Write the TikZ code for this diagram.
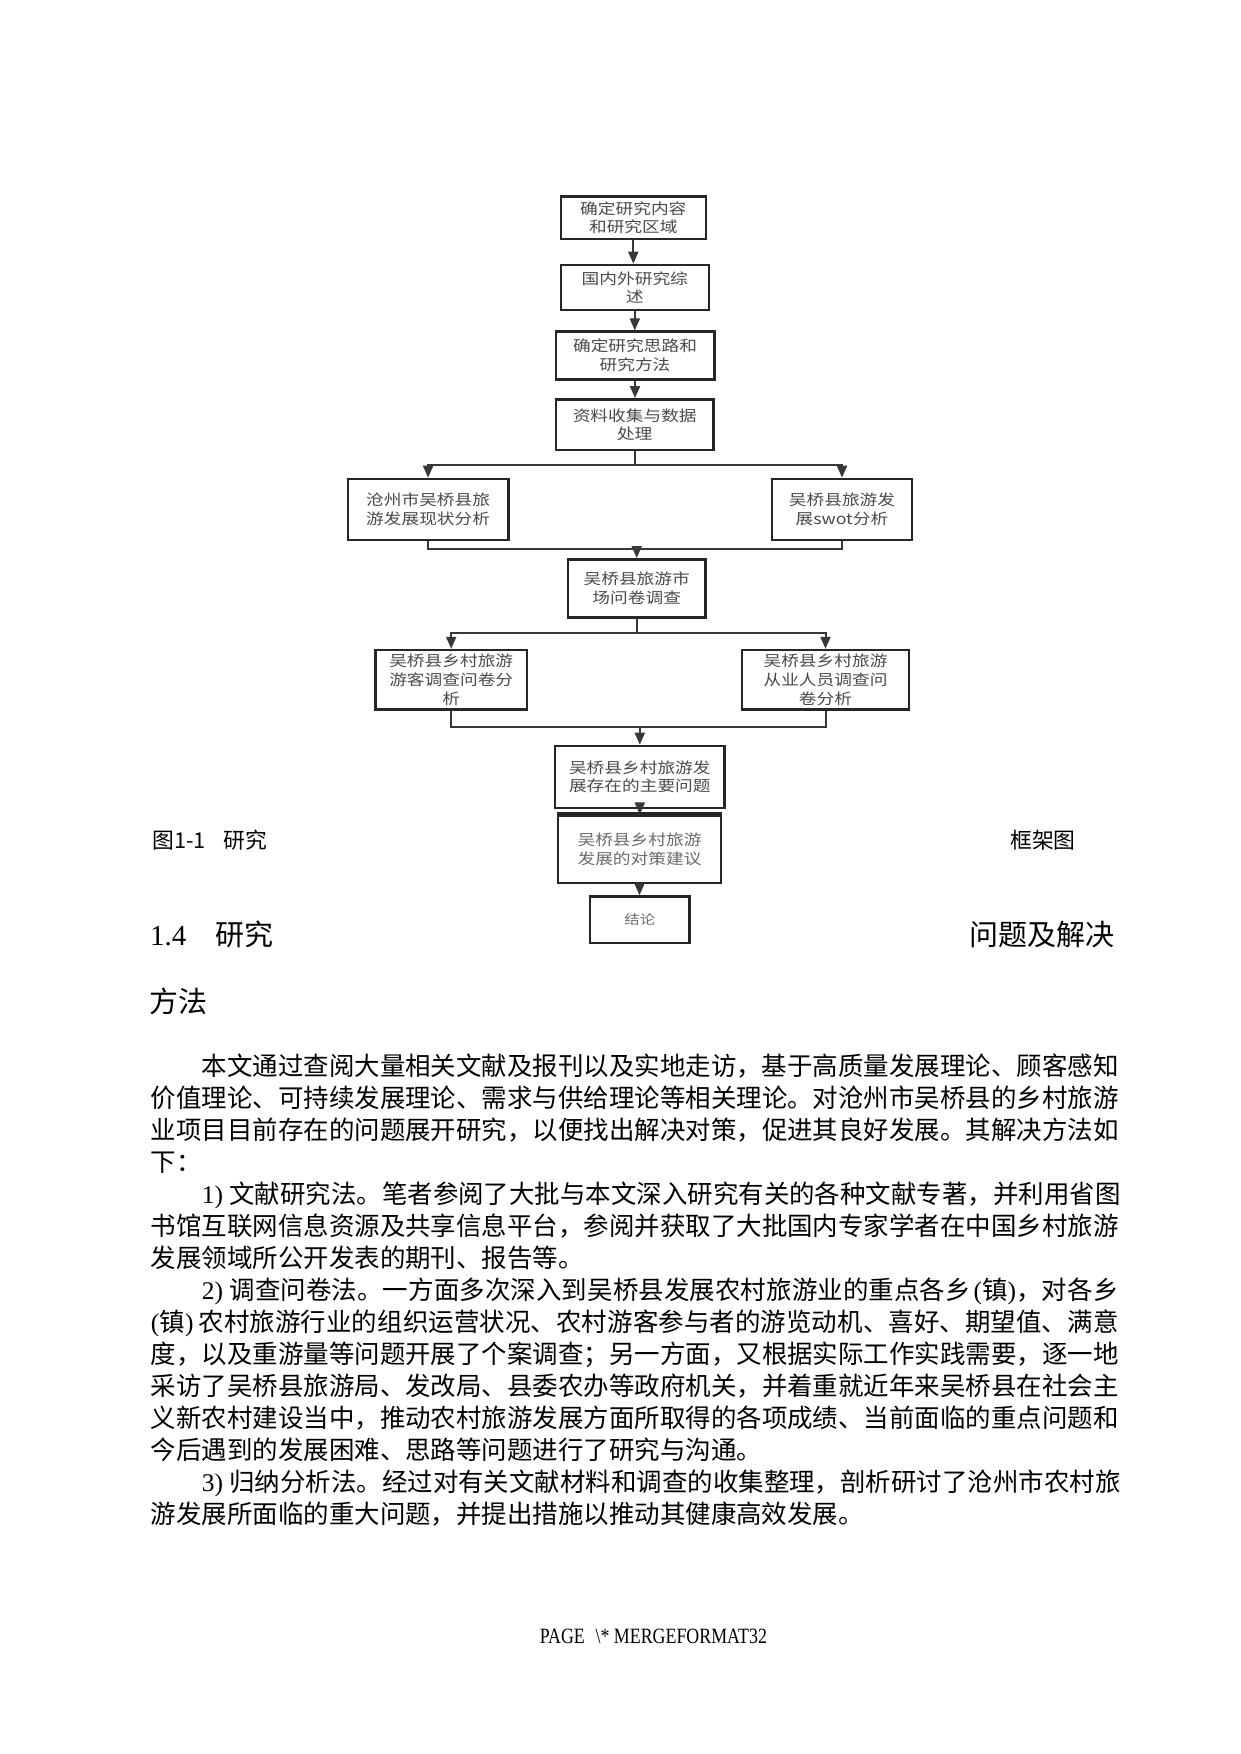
\documentclass[tikz,border=0pt]{standalone}
\usepackage{fontspec}
\setmainfont{Liberation Serif}
\newfontfamily\cjk{Noto Sans CJK SC}
\newfontfamily\boxf[FakeStretch=1.18]{Noto Sans CJK SC}
\newfontfamily\lat{Liberation Serif}
\usetikzlibrary{arrows.meta}
\definecolor{boxline}{HTML}{262626}
\definecolor{conncol}{HTML}{383838}
\definecolor{boxtext}{HTML}{4A4A4A}
\definecolor{boxtextl}{HTML}{6A6A6A}
\newcommand\boxfont{\boxf\fontsize{15pt}{18.7pt}\selectfont}
\newcommand\bodyfont{\cjk\fontsize{25.46pt}{30pt}\selectfont}
\def\jfirst#1{{#1}\jrest}
\def\jrest#1{\ifx\relax#1\else\hskip0pt plus 1fil{#1}\expandafter\jrest\fi}
\newcommand\jline[2]{\makebox[#1pt][s]{\jfirst#2\relax}}
\begin{document}
\begin{tikzpicture}[x=1pt,y=-1pt,
  fbox/.style={draw=boxline, line width=2.6pt, fill=white, inner sep=0pt, align=center, text=boxtext, font=\boxfont},
  conn/.style={draw=conncol, line width=2pt},
  arr/.style={conn, -{Triangle[length=12pt,width=10pt]}},
  txt/.style={inner sep=0pt, text height=.88em, text depth=.12em},
  bodyl/.style={txt, anchor=west, font=\bodyfont}]
\fill[white] (0,0) rectangle (1240,1754);
\useasboundingbox (0,0) rectangle (1240,1754);

% flowchart boxes
\node[fbox, minimum width=145pt, minimum height=42.3pt] (b1) at (633.3,217.9) {确定研究内容\\和研究区域};
\node[fbox, minimum width=148pt, minimum height=45pt] (b2) at (634.8,287.5) {国内外研究综\\述};
\node[fbox, minimum width=158.4pt, minimum height=47.6pt] (b3) at (635,355.5) {确定研究思路和\\研究方法};
\node[fbox, minimum width=157.7pt, minimum height=50.7pt] (b4) at (634.7,424.7) {资料收集与数据\\处理};
\node[fbox, minimum width=160.4pt, minimum height=61pt] (b5) at (428.1,509.5) {沧州市吴桥县旅\\游发展现状分析};
\node[fbox, minimum width=140pt, minimum height=61pt] (b6) at (842,509.5) {吴桥县旅游发\\展swot分析};
\node[fbox, minimum width=137.5pt, minimum height=58pt] (b7) at (636.7,588.3) {吴桥县旅游市\\场问卷调查};
\node[fbox, minimum width=151.6pt, minimum height=59.3pt] (b8) at (451.2,679.7) {吴桥县乡村旅游\\游客调查问卷分\\析};
\node[fbox, minimum width=167pt, minimum height=59.3pt] (b9) at (825.5,679.7) {吴桥县乡村旅游\\从业人员调查问\\卷分析};
\node[fbox, minimum width=169.5pt, minimum height=61.9pt] (b10) at (639.8,776.9) {吴桥县乡村旅游发\\展存在的主要问题};
\node[fbox, minimum width=163pt, minimum height=67.3pt, text=boxtextl] (b11) at (639.5,849.4) {吴桥县乡村旅游\\发展的对策建议};
\draw[boxline, line width=4pt] (b11.north west) -- (b11.north east);
\node[fbox, minimum width=99.5pt, minimum height=46.5pt, text=boxtextl, font=\boxf\fontsize{13pt}{16pt}\selectfont] (b12) at (639.8,919.8) {结论};

% helper levels
\coordinate (ys1) at (0,464.5);
\coordinate (ym1) at (0,549.3);
\coordinate (ys2) at (0,633.3);
\coordinate (ym2) at (0,726.7);
\coordinate (s1) at (b4.south |- ys1);
\coordinate (m1) at (b7.north |- ym1);
\coordinate (s2) at (b7.south |- ys2);
\coordinate (m2) at (b10.north |- ym2);

% connectors
\draw[arr] (b1.south) -- (b1.south |- b2.north);
\draw[arr] (b2.south) -- (b2.south |- b3.north);
\draw[arr] (b3.south) -- (b3.south |- b4.north);
\draw[conn] (b4.south) -- (s1);
\draw[arr] (s1) -| (b5.north);
\draw[arr] (s1) -| (b6.north);
\draw[conn] (b5.south) |- (m1);
\draw[conn] (b6.south) |- (m1);
\draw[arr] (m1) -- (b7.north);
\draw[conn] (b7.south) -- (s2);
\draw[arr] (s2) -| (b8.north);
\draw[arr] (s2) -| (b9.north);
\draw[conn] (b8.south) |- (m2);
\draw[conn] (b9.south) |- (m2);
\draw[arr] (m2) -- (b10.north);
\draw[arr] (b10.south) -- (b10.south |- b11.north);
\draw[arr] (b11.south) -- (b11.south |- b12.north);

% caption
\node[txt, anchor=west, font=\cjk\fontsize{21.8pt}{24pt}\selectfont] (cap1) at (152,844.3) {图1-1};
\node[txt, anchor=west, font=\cjk\fontsize{21.8pt}{24pt}\selectfont] (cap2) at (223,844.3) {研究};
\node[txt, anchor=west, font=\cjk\fontsize{21.8pt}{24pt}\selectfont] (cap3) at (1010,844.3) {框架图};

% heading
\node[txt, anchor=west, font=\lat\fontsize{29pt}{32pt}\selectfont] (h1) at (150,942) {1.4};
\node[txt, anchor=west, font=\cjk\fontsize{29pt}{32pt}\selectfont] (h2) at (215,942) {研究};
\node[txt, anchor=east, font=\cjk\fontsize{29pt}{32pt}\selectfont] (h3) at (1115,942) {问题及解决};
\node[txt, anchor=west, font=\cjk\fontsize{29pt}{32pt}\selectfont] (h4) at (149,1009) {方法};

% body
\node[bodyl] (l0) at (201.6,1072) {\jline{916.7}{本文通过查阅大量相关文献及报刊以及实地走访，基于高质量发展理论、顾客感知}};
\node[bodyl] (l1) at (150.7,1104) {\jline{967.6}{价值理论、可持续发展理论、需求与供给理论等相关理论。对沧州市吴桥县的乡村旅游}};
\node[bodyl] (l2) at (150.7,1136) {\jline{967.6}{业项目目前存在的问题展开研究，以便找出解决对策，促进其良好发展。其解决方法如}};
\node[bodyl] (l3) at (150.7,1168) {下：};
\node[bodyl] (l4) at (201.6,1200) {\jline{916.7}{{\lat 1)\hspace{0.25em}}文献研究法。笔者参阅了大批与本文深入研究有关的各种文献专著，并利用省图}};
\node[bodyl] (l5) at (150.7,1232) {\jline{967.6}{书馆互联网信息资源及共享信息平台，参阅并获取了大批国内专家学者在中国乡村旅游}};
\node[bodyl] (l6) at (150.7,1264) {发展领域所公开发表的期刊、报告等。};
\node[bodyl] (l7) at (201.6,1296) {\jline{916.7}{{\lat 2)\hspace{0.25em}}调查问卷法。一方面多次深入到吴桥县发展农村旅游业的重点各乡{\lat\hspace{0.1em}(}镇{\lat)}，对各乡}};
\node[bodyl] (l8) at (150.7,1328) {\jline{967.6}{{\lat(}镇{\lat)\hspace{0.2em}}农村旅游行业的组织运营状况、农村游客参与者的游览动机、喜好、期望值、满意}};
\node[bodyl] (l9) at (150.7,1360) {\jline{967.6}{度，以及重游量等问题开展了个案调查；另一方面，又根据实际工作实践需要，逐一地}};
\node[bodyl] (l10) at (150.7,1392) {\jline{967.6}{采访了吴桥县旅游局、发改局、县委农办等政府机关，并着重就近年来吴桥县在社会主}};
\node[bodyl] (l11) at (150.7,1424) {\jline{967.6}{义新农村建设当中，推动农村旅游发展方面所取得的各项成绩、当前面临的重点问题和}};
\node[bodyl] (l12) at (150.7,1456) {今后遇到的发展困难、思路等问题进行了研究与沟通。};
\node[bodyl] (l13) at (201.6,1488) {\jline{916.7}{{\lat 3)\hspace{0.25em}}归纳分析法。经过对有关文献材料和调查的收集整理，剖析研讨了沧州市农村旅}};
\node[bodyl] (l14) at (150.7,1520) {游发展所面临的重大问题，并提出措施以推动其健康高效发展。};

% footer
\node[inner sep=0pt, font=\lat\fontsize{21.8pt}{24pt}\selectfont] (foot) at (653.4,1636.7) {\scalebox{0.82}[1]{PAGE\hspace{0.6em}\textbackslash* MERGEFORMAT32}};
\end{tikzpicture}
\end{document}
